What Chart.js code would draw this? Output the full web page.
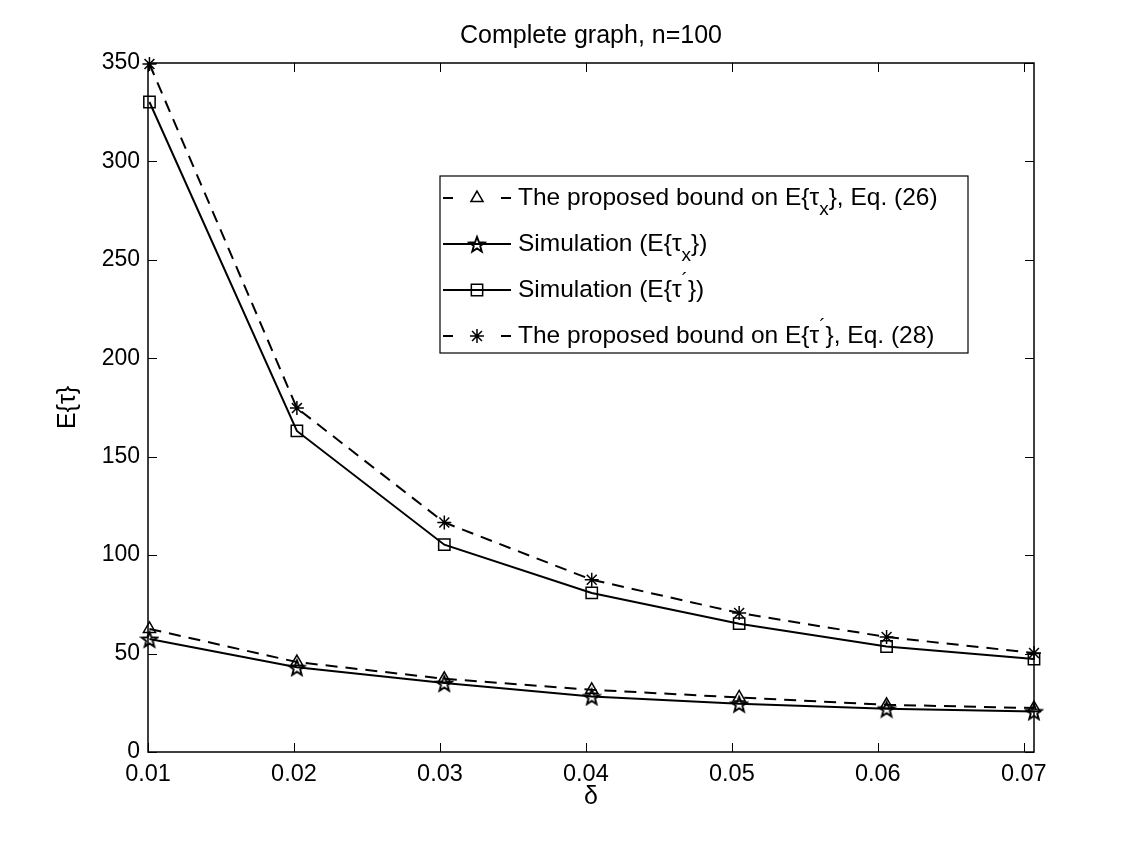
<!DOCTYPE html>
<html lang="en">
<head>
    <meta charset="UTF-8">
    <title>Complete graph, n=100</title>
    <script src="https://cdn.jsdelivr.net/npm/chart.js"></script>
    <style>
        body {
            margin: 0;
            background: #fff;
        }

        .box {
            width: 1142px;
            height: 846px;
            position: relative;
        }
    </style>
</head>
<body>
    <div class="box">
        <canvas id="grafico"></canvas>
    </div>

    <script>
        // values
        const deltas = [0.0101, 0.0202, 0.0303, 0.0404, 0.0505, 0.0606, 0.0707];
        const boundTauX = [62.5, 45.7, 37.2, 31.6, 27.7, 24.0, 22.3];
        const simTauX = [57.4, 43.0, 35.0, 28.2, 24.5, 22.0, 20.6];
        const simTauP = [330.2, 163.1, 105.3, 80.8, 65.2, 53.6, 47.2];
        const boundTauP = [349.5, 174.7, 116.6, 87.5, 70.6, 58.4, 50.3];

        const xTicks = [0.01, 0.02, 0.03, 0.04, 0.05, 0.06, 0.07];
        const yTicks = [0, 50, 100, 150, 200, 250, 300, 350];

        // legend text, split for sub/superscripts
        const legendLabels = [
            [{ t: 'The proposed bound on E{τ' }, { t: 'x', sub: true }, { t: '}, Eq. (26)' }],
            [{ t: 'Simulation (E{τ' }, { t: 'x', sub: true }, { t: '})' }],
            [{ t: 'Simulation (E{τ' }, { t: '´', sup: true }, { t: '})' }],
            [{ t: 'The proposed bound on E{τ' }, { t: '´', sup: true }, { t: '}, Eq. (28)' }]
        ];

        const FONT = '"Liberation Sans", Arial, Helvetica, sans-serif';

        // matlab pentagram marker
        function pentagram(size, lw) {
            const c = document.createElement('canvas');
            c.width = size;
            c.height = size;
            const g = c.getContext('2d');
            const R = size / 2 - lw, r = R * 0.42;
            g.beginPath();
            for (let i = 0; i < 10; i++) {
                const a = -Math.PI / 2 + i * Math.PI / 5;
                const rr = i % 2 ? r : R;
                g.lineTo(size / 2 + rr * Math.cos(a), size / 2 + 1 + rr * Math.sin(a));
            }
            g.closePath();
            g.lineWidth = lw;
            g.lineJoin = 'miter';
            g.strokeStyle = '#000';
            g.stroke();
            return c;
        }
        const starImg = pentagram(20, 1.9);

        const series = [
            { data: boundTauX, dash: [12, 8], style: 'triangle', radius: 7 },
            { data: simTauX, dash: [], style: starImg, radius: 7 },
            { data: simTauP, dash: [], style: 'rect', radius: 8 },
            { data: boundTauP, dash: [12, 8], style: 'star', radius: 7 }
        ];

        const eixos = {
            id: 'eixos',
            beforeDatasetsDraw(chart) {
                const { ctx, chartArea: a, scales } = chart;
                ctx.save();
                ctx.strokeStyle = '#000';
                ctx.lineWidth = 1;
                ctx.beginPath();
                xTicks.forEach(v => {
                    const px = Math.round(scales.x.getPixelForValue(v)) + 0.5;
                    ctx.moveTo(px, a.bottom);
                    ctx.lineTo(px, a.bottom - 9);
                    ctx.moveTo(px, a.top);
                    ctx.lineTo(px, a.top + 9);
                });
                yTicks.forEach(v => {
                    const py = Math.round(scales.y.getPixelForValue(v)) + 0.5;
                    ctx.moveTo(a.left, py);
                    ctx.lineTo(a.left + 9, py);
                    ctx.moveTo(a.right, py);
                    ctx.lineTo(a.right - 9, py);
                });
                ctx.stroke();
                ctx.lineWidth = 1.5;
                ctx.strokeRect(a.left, a.top, a.right - a.left, a.bottom - a.top);
                ctx.restore();
            },
            afterDraw(chart) {
                const ctx = chart.ctx;
                const lx = 440, ly = 176, lw = 528, lh = 177;
                ctx.save();
                ctx.fillStyle = '#fff';
                ctx.fillRect(lx, ly, lw, lh);
                ctx.strokeStyle = '#000';
                ctx.lineWidth = 1.2;
                ctx.strokeRect(lx, ly, lw, lh);

                chart.data.datasets.forEach((ds, i) => {
                    const yy = ly + 22 + 46 * i;
                    ctx.lineWidth = 2;
                    ctx.setLineDash([]);
                    ctx.beginPath();
                    if (ds.borderDash.length) {
                        ctx.moveTo(443, yy); ctx.lineTo(453, yy);
                        ctx.moveTo(501, yy); ctx.lineTo(511, yy);
                    } else {
                        ctx.moveTo(443, yy); ctx.lineTo(511, yy);
                    }
                    ctx.stroke();
                    ctx.lineWidth = 1.5;
                    ctx.fillStyle = 'rgba(0,0,0,0)';
                    Chart.helpers.drawPoint(ctx, {
                        pointStyle: ds.pointStyle,
                        radius: ds.pointRadius,
                        borderWidth: 1.5
                    }, 477, yy);

                    let tx = 518;
                    ctx.fillStyle = '#000';
                    ctx.textBaseline = 'middle';
                    legendLabels[i].forEach(p => {
                        let dy = 0;
                        if (p.sub) { ctx.font = '19px ' + FONT; dy = 12; }
                        else if (p.sup) { ctx.font = '19px ' + FONT; dy = -9; }
                        else ctx.font = '24.5px ' + FONT;
                        ctx.fillText(p.t, tx, yy + dy);
                        tx += ctx.measureText(p.t).width;
                    });
                });
                ctx.restore();
            }
        };

        new Chart(document.getElementById('grafico'), {
            type: 'line',
            data: {
                datasets: series.map(s => ({
                    data: s.data.map((v, i) => ({ x: deltas[i], y: v })),
                    borderColor: '#000',
                    backgroundColor: 'transparent',
                    borderWidth: 2,
                    borderDash: s.dash,
                    pointStyle: s.style,
                    pointRadius: s.radius,
                    pointBorderWidth: 1.5,
                    pointBorderColor: '#000',
                    pointBackgroundColor: 'transparent',
                    tension: 0,
                    clip: false
                }))
            },
            options: {
                responsive: true,
                maintainAspectRatio: false,
                animation: false,
                layout: { padding: { left: 0, right: 108, top: 0, bottom: 0 } },
                plugins: {
                    legend: { display: false },
                    tooltip: { enabled: false },
                    title: {
                        display: true,
                        fullSize: false,
                        text: 'Complete graph, n=100',
                        color: '#000',
                        font: { family: FONT, size: 25, weight: 'normal' },
                        padding: { top: 21, bottom: 12 }
                    }
                },
                scales: {
                    x: {
                        type: 'linear',
                        min: 0.01,
                        max: 0.0707,
                        afterFit: s => { s.height = 94; },
                        afterBuildTicks: s => { s.ticks = xTicks.map(v => ({ value: v })); },
                        grid: { display: false, drawTicks: false },
                        border: { display: false },
                        ticks: {
                            color: '#000',
                            padding: 8,
                            maxRotation: 0,
                            font: { family: FONT, size: 23.5 },
                            callback: v => v.toFixed(2)
                        },
                        title: {
                            display: true,
                            text: 'δ',
                            color: '#000',
                            font: { family: FONT, size: 25 },
                            padding: { top: 0, bottom: 34 }
                        }
                    },
                    y: {
                        min: 0,
                        max: 350,
                        afterFit: s => { s.width = 148; },
                        afterBuildTicks: s => { s.ticks = yTicks.map(v => ({ value: v })); },
                        grid: { display: false, drawTicks: false },
                        border: { display: false },
                        ticks: {
                            color: '#000',
                            padding: 8,
                            font: { family: FONT, size: 23 }
                        },
                        title: {
                            display: true,
                            text: 'E{τ}',
                            color: '#000',
                            font: { family: FONT, size: 25 },
                            padding: { top: 53, bottom: 0 }
                        }
                    }
                }
            },
            plugins: [eixos]
        });
    </script>
</body>
</html>
